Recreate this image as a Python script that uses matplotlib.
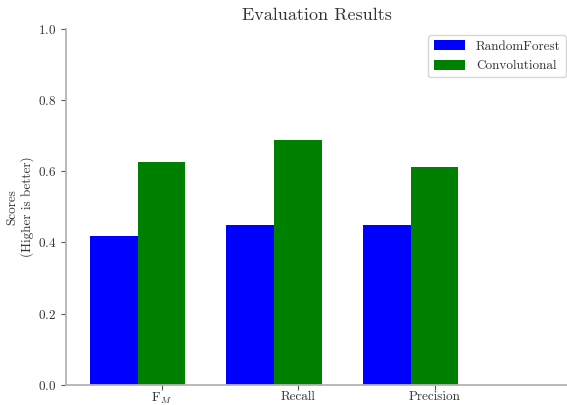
import matplotlib
matplotlib.use("Agg")
import matplotlib.pyplot as plt
import numpy as np

plt.rcParams["font.family"] = "serif"
plt.rcParams["font.serif"] = ["cmr10"]
plt.rcParams["mathtext.fontset"] = "cm"
plt.rcParams["axes.unicode_minus"] = False
plt.rcParams["axes.formatter.use_mathtext"] = True

metrics = [r"F$_M$", "Recall", "Precision"]
random_forest = [0.417, 0.448, 0.448]
convolutional = [0.625, 0.689, 0.613]
series_names = ["RandomForest", "Convolutional"]

width = 0.35
x = np.arange(len(metrics))

fig = plt.figure(figsize=(5.67, 4.05), dpi=100)
ax = fig.add_axes([66 / 567, 1 - 385 / 405, 1 - 66 / 567, (385 - 28.7) / 405])

ax.bar(x, random_forest, width, color="blue", label=series_names[0])
ax.bar(x + width, convolutional, width, color="green", label=series_names[1])

ax.set_xticks(x + width)
ax.set_xticklabels(metrics)
ax.set_xlim(-0.35, 3.32)
ax.set_ylim(0, 1.0)
ax.set_yticks([0.0, 0.2, 0.4, 0.6, 0.8, 1.0])

text_color = "#333333"
for side in ("top", "right"):
    ax.spines[side].set_visible(False)
for side in ("left", "bottom"):
    ax.spines[side].set_color("#b3b3b3")
    ax.spines[side].set_linewidth(1.3)
ax.tick_params(axis="both", colors="#555555", labelcolor=text_color,
               labelsize=9.5, length=3.5, width=0.8)
ax.tick_params(axis="x", pad=1)

ax.set_title("Evaluation Results", fontsize=13, color=text_color, pad=6)
ax.set_ylabel("Scores\n(Higher is better)", fontsize=9.5, color=text_color,
              linespacing=1.15, labelpad=3)

leg = ax.legend(loc="upper right", fontsize=9.5, frameon=True, fancybox=True,
                bbox_to_anchor=(566 / 567, 1 - 35 / 405),
                bbox_transform=fig.transFigure, borderaxespad=0,
                handlelength=2.4, handleheight=0.8)
leg.get_frame().set_edgecolor("#cccccc")
for t in leg.get_texts():
    t.set_color(text_color)

fig.savefig("out.png", dpi=100)
